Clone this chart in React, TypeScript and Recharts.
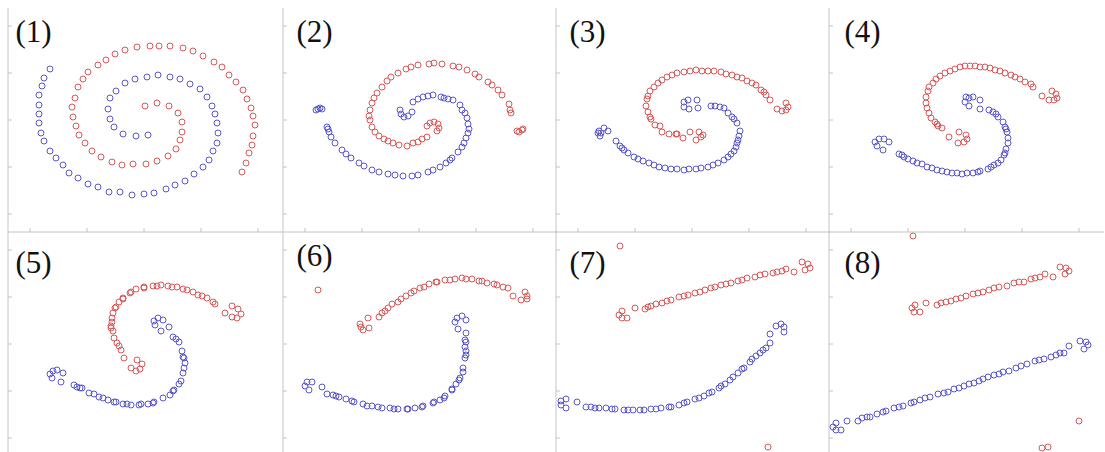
import { ScatterChart, Scatter, XAxis, YAxis } from 'recharts'

type Pt = [number, number]

// point positions (x from the left axis, y up from the bottom axis)
const p1Blue: Pt[] = [[42,163],[36,154],[34,146],[31,137],[31,127],[31,118],[31,109],[33,99],[36,91],[42,81],[48,74],[55,67],[61,59],[70,54],[80,48],[90,45],[101,40],[112,40],[124,37],[136,38],[146,39],[158,43],[167,47],[177,51],[186,58],[195,65],[201,72],[205,81],[209,89],[210,99],[209,109],[207,118],[204,126],[199,135],[192,143],[182,148],[172,153],[162,155],[150,157],[139,155],[127,153],[117,149],[108,141],[102,134],[100,123],[102,113],[106,105],[115,98],[128,96],[140,97]]
const p1Red: Pt[] = [[234,60],[238,69],[241,79],[244,87],[245,96],[247,107],[245,116],[243,124],[239,133],[235,142],[228,150],[221,157],[214,165],[206,170],[195,176],[185,181],[175,184],[162,186],[151,186],[142,186],[129,185],[117,182],[107,178],[98,172],[90,167],[80,160],[75,153],[70,145],[67,134],[64,125],[65,115],[68,106],[71,97],[77,89],[84,81],[93,75],[104,70],[114,67],[125,68],[138,68],[149,71],[160,76],[168,83],[172,92],[174,100],[174,110],[170,119],[161,126],[149,129],[137,126]]

const p2Blue: Pt[] = [[33,122],[35,123],[37,124],[39,123],[44,105],[45,103],[46,100],[48,95],[52,89],[59,82],[63,78],[68,74],[76,69],[81,66],[89,62],[96,60],[105,58],[112,57],[120,56],[129,56],[135,57],[145,60],[150,62],[157,65],[163,69],[167,72],[169,74],[175,80],[179,85],[181,89],[183,94],[185,99],[186,103],[185,108],[184,114],[182,119],[179,122],[177,127],[170,132],[165,133],[161,134],[158,135],[150,137],[145,136],[140,135],[135,133],[130,130],[117,122],[118,118],[121,115],[125,116],[129,120]]
const p2Red: Pt[] = [[234,101],[236,100],[239,102],[240,103],[228,119],[227,122],[226,128],[219,137],[215,142],[209,147],[205,150],[196,155],[192,158],[184,162],[176,165],[170,166],[159,168],[151,169],[146,168],[135,167],[128,165],[123,163],[115,159],[108,155],[104,151],[99,145],[94,139],[91,134],[89,129],[87,122],[86,116],[87,112],[89,105],[92,100],[96,96],[101,93],[105,91],[110,89],[116,87],[124,86],[130,89],[135,90],[139,93],[144,95],[144,106],[147,109],[151,110],[155,108],[156,104],[154,101]]

const p3Blue: Pt[] = [[43,101],[44,96],[45,99],[48,104],[52,101],[42,99],[60,91],[64,86],[66,84],[68,82],[72,79],[78,75],[82,73],[87,71],[93,69],[98,67],[103,65],[109,64],[115,63],[121,63],[128,62],[133,63],[140,63],[145,64],[152,65],[157,67],[162,69],[168,72],[172,75],[175,78],[178,81],[180,85],[181,89],[182,92],[183,96],[184,101],[181,109],[178,113],[176,115],[172,119],[168,124],[164,125],[159,126],[155,126],[128,130],[132,132],[141,132],[128,125],[133,123],[142,124]]
const p3Red: Pt[] = [[230,129],[232,125],[230,122],[226,121],[221,123],[214,132],[210,137],[205,142],[208,140],[200,147],[196,149],[191,151],[186,154],[181,155],[176,157],[170,158],[165,160],[158,161],[152,161],[146,161],[140,162],[134,161],[128,160],[121,159],[116,157],[111,155],[106,152],[102,149],[98,145],[94,141],[92,136],[91,133],[90,126],[92,120],[94,115],[95,113],[99,107],[104,106],[106,100],[113,98],[120,98],[121,98],[127,94],[134,100],[140,92],[143,100],[145,95],[147,97]]

const p4Blue: Pt[] = [[46,90],[48,86],[50,93],[55,93],[60,90],[54,82],[70,78],[73,77],[75,75],[79,73],[84,71],[88,69],[93,68],[98,65],[103,64],[108,62],[113,61],[118,60],[123,59],[128,59],[133,58],[138,59],[144,59],[149,60],[151,61],[159,63],[162,65],[165,67],[169,69],[172,72],[175,77],[176,79],[177,83],[179,89],[179,94],[178,100],[177,103],[176,105],[174,110],[169,115],[167,118],[164,120],[160,122],[137,135],[140,134],[144,135],[151,132],[136,130],[140,126],[151,123]]
const p4Red: Pt[] = [[223,141],[227,138],[228,134],[225,132],[220,132],[213,136],[204,145],[202,148],[196,150],[191,153],[186,155],[182,157],[176,159],[171,161],[166,162],[161,164],[156,165],[151,165],[146,166],[141,166],[136,166],[131,165],[126,163],[121,161],[116,159],[111,156],[107,153],[104,149],[100,145],[99,141],[97,135],[97,129],[98,124],[100,119],[102,114],[106,110],[109,106],[113,104],[108,108],[120,95],[130,100],[137,97],[138,93],[135,90],[129,89]]

const p5Blue: Pt[] = [[42,82],[44,78],[45,85],[49,86],[55,83],[53,74],[66,71],[69,69],[72,68],[74,68],[81,63],[86,62],[91,59],[95,58],[100,56],[106,54],[108,54],[115,52],[119,52],[123,51],[131,51],[133,52],[140,52],[145,53],[146,54],[155,58],[162,61],[165,65],[166,66],[171,72],[173,75],[175,83],[176,88],[177,93],[176,98],[175,99],[174,105],[171,114],[168,117],[165,119],[161,129],[155,136],[150,138],[146,135],[147,131],[153,125]]
const p5Red: Pt[] = [[224,150],[230,147],[233,142],[229,138],[224,139],[217,143],[207,152],[205,154],[199,158],[194,160],[190,161],[185,164],[179,166],[175,167],[169,169],[164,169],[160,170],[153,171],[149,170],[145,170],[136,169],[136,168],[128,167],[123,164],[122,163],[115,158],[115,157],[111,154],[108,149],[107,148],[105,143],[104,138],[104,134],[103,130],[103,128],[105,125],[106,118],[109,113],[111,110],[113,106],[116,98],[123,88],[128,85],[132,87],[134,92],[129,96]]

const p6Blue: Pt[] = [[22,70],[24,74],[26,66],[29,74],[39,69],[44,62],[50,61],[53,60],[56,59],[63,57],[69,55],[71,54],[80,52],[84,50],[89,50],[95,49],[99,48],[107,48],[111,47],[115,47],[124,47],[125,47],[132,48],[139,49],[140,50],[150,53],[151,54],[157,56],[161,58],[162,60],[169,66],[169,67],[173,72],[176,76],[177,78],[180,84],[180,88],[182,98],[183,101],[183,105],[182,109],[183,114],[182,116],[183,123],[175,127],[172,134],[174,138],[179,140],[183,136]]
const p6Red: Pt[] = [[35,166],[77,132],[78,129],[80,126],[86,128],[85,138],[96,139],[99,143],[102,145],[105,148],[109,152],[115,154],[118,157],[123,160],[128,163],[131,165],[137,168],[141,169],[146,172],[153,174],[154,174],[162,176],[167,176],[172,177],[179,178],[183,177],[189,177],[196,175],[199,175],[204,173],[211,172],[214,171],[220,169],[225,168],[230,160],[238,156],[242,164],[244,160],[244,157]]

const p7Blue: Pt[] = [[5,55],[5,51],[10,57],[10,48],[21,54],[30,49],[35,49],[39,48],[43,48],[50,48],[56,47],[59,47],[68,46],[72,46],[77,46],[84,46],[88,46],[95,47],[100,47],[105,48],[113,49],[115,49],[123,51],[128,53],[131,54],[139,57],[143,58],[148,60],[153,63],[156,64],[163,68],[165,70],[169,72],[174,76],[177,79],[182,83],[186,87],[188,88],[194,94],[196,97],[200,100],[204,103],[207,106],[210,108],[214,113],[214,122],[220,130],[225,132],[228,129],[228,124]]
const p7Red: Pt[] = [[64,210],[212,9],[63,141],[66,145],[66,138],[71,138],[79,148],[89,147],[92,149],[95,150],[100,152],[106,153],[111,155],[115,156],[123,159],[128,160],[132,161],[139,163],[144,164],[149,166],[155,168],[159,169],[165,171],[170,172],[175,173],[182,175],[186,176],[191,178],[199,179],[204,181],[209,182],[217,183],[221,184],[226,185],[230,187],[238,184],[246,194],[252,192],[249,186],[254,188]]

const p8Blue: Pt[] = [[4,29],[7,33],[7,26],[12,26],[18,35],[29,35],[33,38],[38,39],[41,39],[48,42],[54,44],[57,45],[65,48],[70,49],[74,50],[82,53],[85,54],[91,56],[96,58],[101,59],[109,62],[115,63],[119,64],[125,67],[130,68],[135,70],[140,72],[145,73],[150,75],[154,77],[159,79],[165,81],[170,82],[174,84],[180,85],[187,88],[192,90],[198,92],[206,95],[210,96],[215,97],[222,99],[227,101],[231,103],[235,103],[240,110],[251,115],[257,114],[255,107],[259,111]]
const p8Red: Pt[] = [[84,220],[250,35],[213,8],[219,9],[83,148],[86,151],[85,144],[91,144],[97,153],[108,151],[112,153],[117,154],[122,155],[127,157],[132,158],[137,160],[144,162],[149,163],[154,164],[160,166],[165,168],[170,169],[178,170],[185,173],[190,174],[195,174],[202,177],[206,178],[211,179],[216,182],[224,179],[231,189],[237,188],[240,185],[236,182]]

const panelLabels = ['(1)', '(2)', '(3)', '(4)', '(5)', '(6)', '(7)', '(8)']
const xTicks = [22, 79, 136, 193, 250]
const yTicks = [18, 65, 112, 159, 206]

const BLUE = '#5858cc'
const RED = '#d85858'
const AXIS = '#c4c4c4'

const W = 276
const H = 225
const colLeft = [7, 282, 555, 828]
const rowTop = [8, 232]
const labelDx = [8.5, 14.5, 14.5, 16.5]
const labelDy = [[8, 8, 8, 8], [15, 8, 15, 15]]

const panels = [
  { blue: p1Blue, red: p1Red },
  { blue: p2Blue, red: p2Red },
  { blue: p3Blue, red: p3Red },
  { blue: p4Blue, red: p4Red },
  { blue: p5Blue, red: p5Red },
  { blue: p6Blue, red: p6Red },
  { blue: p7Blue, red: p7Red },
  { blue: p8Blue, red: p8Red },
]

const toRows = (pts: Pt[]) => pts.map(([x, y]) => ({ x, y }))

const ring = (color: string) => (props: any) => (
  <circle cx={props.cx} cy={props.cy} r={3} fill="none" stroke={color} strokeWidth={1} />
)

const noTick = () => <g />

function Panel({ idx }: { idx: number }) {
  const col = idx % 4
  const row = Math.floor(idx / 4)
  const { blue, red } = panels[idx]
  return (
    <div style={{ position: 'absolute', left: colLeft[col], top: rowTop[row], width: W, height: H }}>
      <ScatterChart width={W} height={H} margin={{ top: 0, right: 0, bottom: 0, left: 0 }}>
        <XAxis
          type="number"
          dataKey="x"
          domain={[0, W - 1]}
          ticks={xTicks}
          interval={0}
          height={1}
          tickSize={-4}
          tick={noTick}
          axisLine={{ stroke: AXIS }}
          tickLine={{ stroke: AXIS }}
        />
        <YAxis
          type="number"
          dataKey="y"
          domain={[0, H - 1]}
          ticks={yTicks}
          interval={0}
          width={1}
          tickSize={-4}
          tick={noTick}
          axisLine={{ stroke: AXIS }}
          tickLine={{ stroke: AXIS }}
        />
        <Scatter data={toRows(blue)} shape={ring(BLUE)} isAnimationActive={false} />
        <Scatter data={toRows(red)} shape={ring(RED)} isAnimationActive={false} />
      </ScatterChart>
      <div
        style={{
          position: 'absolute',
          left: labelDx[col],
          top: labelDy[row][col],
          fontFamily: '"Liberation Serif", serif',
          fontSize: 31,
          lineHeight: 1,
          color: '#111',
        }}
      >
        {panelLabels[idx]}
      </div>
    </div>
  )
}

export default function App() {
  return (
    <div style={{ position: 'absolute', left: 0, top: 0, width: 1105, height: 452, overflow: 'hidden', background: '#fff' }}>
      {panels.map((_, i) => (
        <Panel key={i} idx={i} />
      ))}
    </div>
  )
}
